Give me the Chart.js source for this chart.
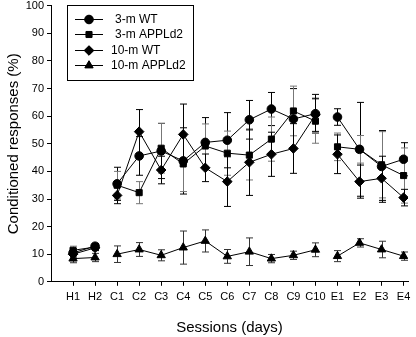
<!DOCTYPE html>
<html><head><meta charset="utf-8">
<script src="https://cdn.jsdelivr.net/npm/chart.js@4.4.1/dist/chart.umd.min.js"></script>
<style>html,body{margin:0;padding:0;background:#fff}#wrap{width:416px;height:337px}</style>
</head><body><div id="wrap"><canvas id="c" width="416" height="337"></canvas></div>
<script>
const sessions = ['H1','H2','C1','C2','C3','C4','C5','C6','C7','C8','C9','C10','E1','E2','E3','E4'];
const yTicks = [0,10,20,30,40,50,60,70,80,90,100];
const wt3 = [10.5,12.9,35.5,45.6,47.4,43.8,50.5,51.3,58.7,62.6,59.0,60.9,59.7,48.0,41.8,44.4];
const wt3Err = [1.5,1,6,7,10,12,9,10,7,6,11,7,3,17,13,6];
const app3 = [11.4,12.6,35.0,32.3,48.4,42.7,49.2,46.6,45.9,51.7,61.9,58.2,48.9,48.0,42.4,38.5];
const app3Err = [1.5,1,5,4,9,10,8,8,9,8,9,8,5,5,12,10];
const wt10 = [10.0,12.3,31.3,54.4,40.5,53.4,41.3,36.3,43.3,46.2,48.3,60.5,46.2,36.3,37.5,30.5];
const wt10Err = [1.5,1,3,8,5,11,5,9,12,8,9,6,7,6,8,3];
const app10 = [8.4,8.8,10.0,11.7,9.6,12.4,14.8,9.2,10.9,8.4,9.6,11.6,9.3,14.1,11.7,9.3];
const app10Err = [1.5,1.5,3,2.5,2,6,4,2.5,5,1.5,1.5,2.5,2,1.5,3,1.5];
const breaksAfter = [1, 11];

function toPoints(vals){
  const pts=[];
  vals.forEach((v,i)=>{pts.push({x:i+1,y:v}); if(breaksAfter.includes(i)) pts.push({x:i+1.5,y:null});});
  return pts;
}
function ds(label, vals, errs, style, r, errColor){
  return {label, data:toPoints(vals), errs, errColor, borderColor:'#000', backgroundColor:'#000',
    borderWidth:1, pointStyle:style, pointRadius:r, pointHoverRadius:r, spanGaps:false, tension:0};
}
const datasets=[
  ds('3-m WT', wt3, wt3Err, 'circle', 4.3, '#000'),
  ds('3-m APPLd2', app3, app3Err, 'rect', 4.3, '#777'),
  ds('10-m WT', wt10, wt10Err, 'rectRot', 4.8, '#000'),
  ds('10-m APPLd2', app10, app10Err, 'triangle', 4.8, '#333')
];
const FONT = '"Liberation Sans", Arial, sans-serif';

const errPlugin={id:'err',beforeDatasetsDraw(chart){
  const {ctx,scales:{x,y}}=chart;
  ctx.save();
  chart.data.datasets.forEach(d=>{
    ctx.strokeStyle=d.errColor; ctx.lineWidth=1;
    d.data.forEach((p,i)=>{
      if(p.y==null) return;
      const idx=p.x-1; const e=d.errs[idx];
      const px=Math.round(x.getPixelForValue(p.x))+0.5;
      const t=y.getPixelForValue(p.y+e), b=y.getPixelForValue(p.y-e);
      ctx.beginPath();
      ctx.moveTo(px,t);ctx.lineTo(px,b);
      ctx.moveTo(px-3.5,t);ctx.lineTo(px+3.5,t);
      ctx.moveTo(px-3.5,b);ctx.lineTo(px+3.5,b);
      ctx.stroke();
    });
  });
  ctx.restore();
}};
const legendPlugin={id:'leg',afterDraw(chart){
  const ctx=chart.ctx;
  ctx.save();
  ctx.strokeStyle='#000';ctx.lineWidth=1;
  ctx.strokeRect(67.5,5.5,126,75);
  const rows=[19,34,50,65];
  const textX=[115,115,111,111];
  ctx.font='12px '+FONT; ctx.textBaseline='middle'; ctx.fillStyle='#000';
  chart.data.datasets.forEach((d,i)=>{
    const yy=rows[i]+0.5;
    ctx.beginPath();ctx.moveTo(75,yy);ctx.lineTo(103,yy);ctx.stroke();
    Chart.helpers.drawPoint(ctx,{pointStyle:d.pointStyle,radius:d.pointRadius,borderWidth:1},89,yy);
    ctx.fill();
    ctx.fillText(d.label,textX[i],yy+0.5);
  });
  ctx.restore();
}};

new Chart(document.getElementById('c'),{
  type:'line',
  data:{datasets},
  options:{
    responsive:false,animation:false,
    layout:{padding:{top:5,right:8,left:0,bottom:0}},
    plugins:{legend:{display:false},tooltip:{enabled:false}},
    scales:{
      x:{type:'linear',min:0,max:16.2,
        afterBuildTicks(s){s.ticks=sessions.map((l,i)=>({value:i+1}));},
        ticks:{autoSkip:false,maxRotation:0,color:'#000',font:{family:FONT,size:11},padding:5,
          callback:(v)=>sessions[v-1]||''},
        grid:{drawOnChartArea:false,drawTicks:true,tickLength:4,color:'#000'},
        border:{color:'#000'},
        title:{display:true,text:'Sessions (days)',color:'#000',font:{family:FONT,size:15},padding:{top:10,bottom:0}}
      },
      y:{min:0,max:100,
        afterBuildTicks(s){s.ticks=yTicks.map(v=>({value:v}));},
        afterFit(s){s.width=51;s.paddingTop=0;s.paddingBottom=0;},
        ticks:{color:'#000',font:{family:FONT,size:11},padding:3},
        grid:{drawOnChartArea:false,drawTicks:true,tickLength:4,color:'#000'},
        border:{color:'#000'},
        title:{display:true,text:'Conditioned responses (%)',color:'#000',font:{family:FONT,size:15},padding:{top:5,bottom:2}}
      }
    }
  },
  plugins:[errPlugin,legendPlugin]
});
</script></body></html>
